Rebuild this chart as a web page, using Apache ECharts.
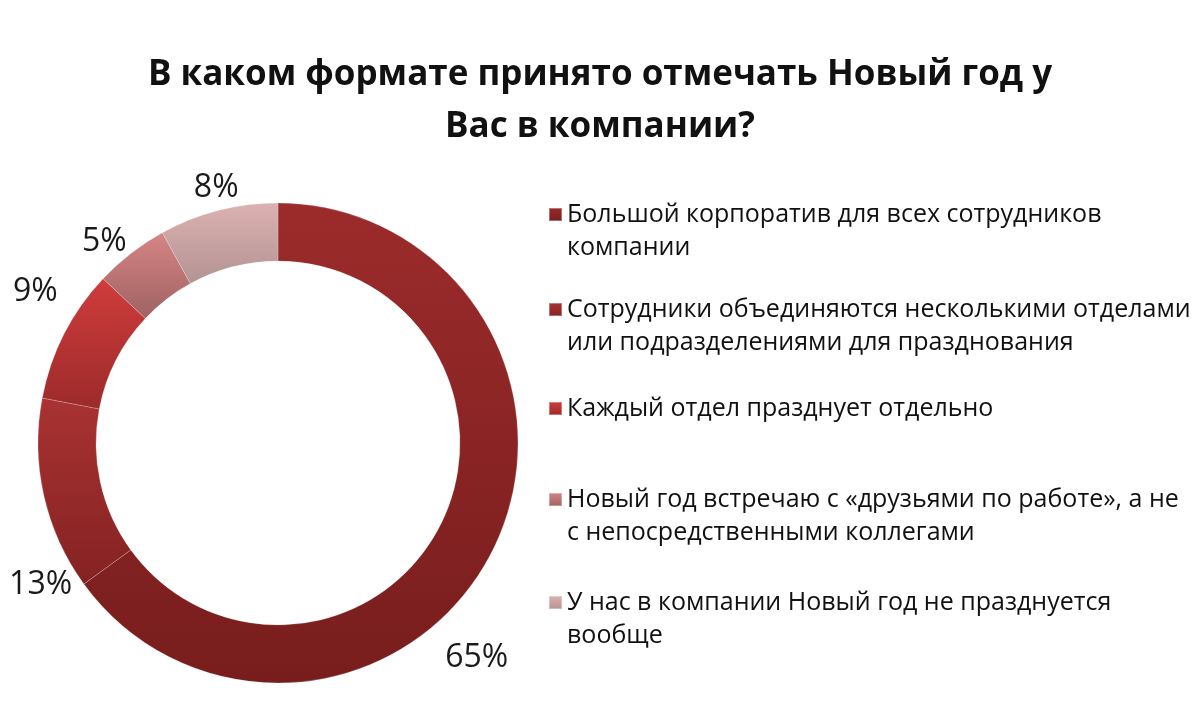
<!DOCTYPE html>
<html>
<head>
<meta charset="utf-8">
<script src="https://cdn.jsdelivr.net/npm/echarts@6/dist/echarts.min.js"></script>
<style>
  html, body { margin: 0; padding: 0; background: #fff; }
  #main { width: 1200px; height: 706px; }
</style>
</head>
<body>
<div id="main"></div>
<script>
const categories = [
    'Большой корпоратив для всех сотрудников\nкомпании',
    'Сотрудники объединяются несколькими отделами\nили подразделениями для празднования',
    'Каждый отдел празднует отдельно',
    'Новый год встречаю с «друзьями по работе», а не\nс непосредственными коллегами',
    'У нас в компании Новый год не празднуется\nвообще'
]
const values = [65, 13, 9, 5, 8]

// top / bottom colours of each slice gradient
const sliceColors = [
    ['#9c2b2b', '#781d1d'],
    ['#aa3232', '#842222'],
    ['#d03c3c', '#9c2a2a'],
    ['#d68585', '#9f6262'],
    ['#ddb1b1', '#b39393']
]
const legendTops = [165, 260, 392, 450, 553]
// nudges of the percent labels, like the original layout
const labelShift = [[-65, 99], [48, 86], [12, -35], [10, 0], [29, -8]]

const grad = (c) => new echarts.graphic.LinearGradient(0, 0, 0, 1, [
    { offset: 0, color: c[0] },
    { offset: 1, color: c[1] }
])

const myChart = echarts.init(document.getElementById('main'))

const legends = categories.map((name, i) => {
    const twoLines = name.indexOf('\n') >= 0
    return {
        data: [name],
        orient: 'vertical',
        left: 548,
        top: legendTops[i],
        padding: 0,
        icon: 'rect',
        itemWidth: 13,
        itemHeight: 13,
        itemGap: 0,
        selectedMode: false,
        // empty first line keeps the marker next to the first text line
        formatter: (n) => twoLines ? ' \n' + n : n,
        textStyle: {
            fontFamily: 'Open Sans',
            fontSize: 25,
            color: '#111',
            lineHeight: 33
        }
    }
})

myChart.setOption({
    title: {
        text: 'В каком формате принято отмечать Новый год у\nВас в компании?',
        left: 'center',
        top: 44,
        textStyle: {
            fontFamily: 'Open Sans',
            fontWeight: 'bold',
            fontSize: 35,
            lineHeight: 52,
            color: '#111'
        }
    },
    legend: legends,
    series: [{
        type: 'pie',
        center: [278, 443],
        radius: [182, 240],
        startAngle: 90,
        clockwise: true,
        animation: false,
        silent: true,
        avoidLabelOverlap: false,
        itemStyle: {
            borderColor: 'rgba(255,255,255,0.35)',
            borderWidth: 0.6
        },
        label: {
            show: true,
            position: 'outside',
            formatter: '{c}%',
            fontFamily: 'Open Sans',
            fontSize: 32,
            color: '#1a1a1a',
            overflow: 'none'
        },
        labelLine: { show: false, length: 15, length2: 0 },
        labelLayout: (p) => ({
            dx: labelShift[p.dataIndex][0],
            dy: labelShift[p.dataIndex][1]
        }),
        data: categories.map((name, i) => ({
            name: name,
            value: values[i],
            itemStyle: { color: grad(sliceColors[i]) }
        }))
    }]
})
</script>
</body>
</html>
